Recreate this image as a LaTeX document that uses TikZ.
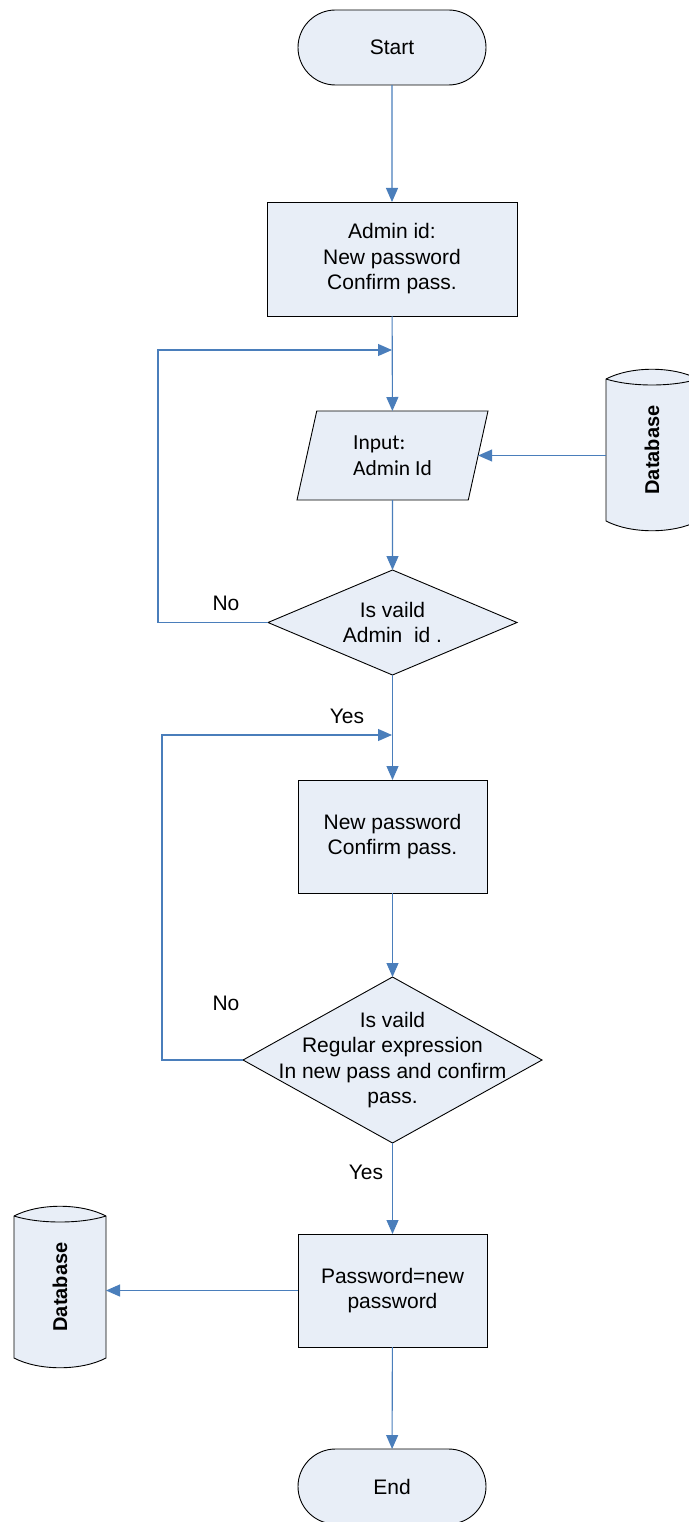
\documentclass[tikz,border=0pt]{standalone}
\usepackage{fontspec}
\usepackage{graphicx}
\setmainfont{Liberation Sans}
\newfontfamily\inputfont{Carlito}
\usetikzlibrary{shapes.geometric,shapes.misc,arrows.meta}
\definecolor{shapefill}{RGB}{232,238,247}
\definecolor{flowblue}{RGB}{74,126,187}

\begin{document}
\begin{tikzpicture}[x=1pt,y=-1pt,
  every node/.style={font=\fontsize{21}{25.5}\selectfont, inner sep=0pt, outer sep=0pt},
  box/.style={draw=black, line width=0.9pt, fill=shapefill, align=center},
  terminal/.style={box, rounded rectangle, minimum width=188pt, minimum height=75pt},
  process/.style={box, rectangle},
  decision/.style={box, diamond},
  io/.style={box, trapezium, trapezium left angle=63.7, trapezium right angle=116.3,
    trapezium stretches body=true, minimum width=191pt, minimum height=89pt,
    align=left, font=\inputfont\fontsize{21.5}{26}\selectfont},
  dbframe/.style={minimum width=92pt, minimum height=142pt},
  dbshape/.style={draw=black, line width=0.9pt, fill=shapefill},
  dblabel/.style={font=\bfseries\fontsize{20}{22}\selectfont},
  flow/.style={draw=flowblue, line width=1.1pt, -{Triangle[length=14pt,width=12pt]}}
]
\useasboundingbox (0,0) rectangle (688,1522);

% main column
\node[terminal] (start) at (392,47.5) {Start};
\node[process, minimum width=250pt, minimum height=114pt] (box1) at (392,259)
  {Admin id:\\ New password\\Confirm pass.};
\node[io] (para) at (392.5,455.5) {Input:\\Admin Id};
\node[decision, minimum width=249pt, minimum height=105pt] (d1) at (392.5,622.5) {};
\node (d1text) at (d1) [align=center] {Is vaild\\Admin~~id~.};
\node[process, minimum width=189pt, minimum height=113pt] (box2) at (392.5,836.5)
  {New password\\Confirm pass.};
\node[decision, minimum width=299pt, minimum height=166pt] (d2) at (392.5,1060) {};
\node (d2text) at (d2) [align=center]
  {Is vaild\\Regular expression\\In new pass and confirm\\pass.};
\node[process, minimum width=189pt, minimum height=113pt] (box3) at (392.5,1290.5)
  {Password=new\\password};
\node[terminal] (end) at (392,1486.5) {End};

% database stores
\node[dbframe] (dbR) at (652,450) {};
\node[dbframe] (dbL) at (60,1287) {};
\foreach \db in {dbR,dbL}{
  \draw[dbshape] (\db.north west) -- (\db.south west)
    .. controls ([xshift=25pt,yshift=-13pt]\db.south west) and ([xshift=-25pt,yshift=-13pt]\db.south east) .. (\db.south east)
    -- (\db.north east)
    .. controls ([xshift=-25pt,yshift=13pt]\db.north east) and ([xshift=25pt,yshift=13pt]\db.north west) .. (\db.north west) -- cycle;
  \draw[dbshape, fill=none] (\db.north west)
    .. controls ([xshift=25pt,yshift=-8pt]\db.north west) and ([xshift=-25pt,yshift=-8pt]\db.north east) .. (\db.north east);
}
\node[dblabel] (dbRtext) at (dbR) {\rotatebox{90}{Database}};
\node[dblabel] (dbLtext) at (dbL) {\rotatebox{90}{Database}};

% branch labels
\node (no1) at (226,603) {No};
\node (yes1) at (347,716) {Yes};
\node (no2) at (226,1003) {No};
\node (yes2) at (366,1172) {Yes};

% junctions where the loops rejoin the main column
\coordinate (j1) at (392,350);
\coordinate (j2) at (392,735);

% connectors
\draw[flow] (start) -- (box1);
\draw[flow] (box1) -- (para);
\draw[flow] (para.east -| dbR.west) -- (para.east);
\draw[flow] (para) -- (d1);
\draw[flow] (d1.west) -- ++(-110,0) |- (j1);
\draw[flow] (d1) -- (box2);
\draw[flow] (d2.west) -- ++(-81,0) |- (j2);
\draw[flow] (box2) -- (d2);
\draw[flow] (d2) -- (box3);
\draw[flow] (box3.west) -- (box3.west -| dbL.east);
\draw[flow] (box3) -- (end);
\end{tikzpicture}
\end{document}
